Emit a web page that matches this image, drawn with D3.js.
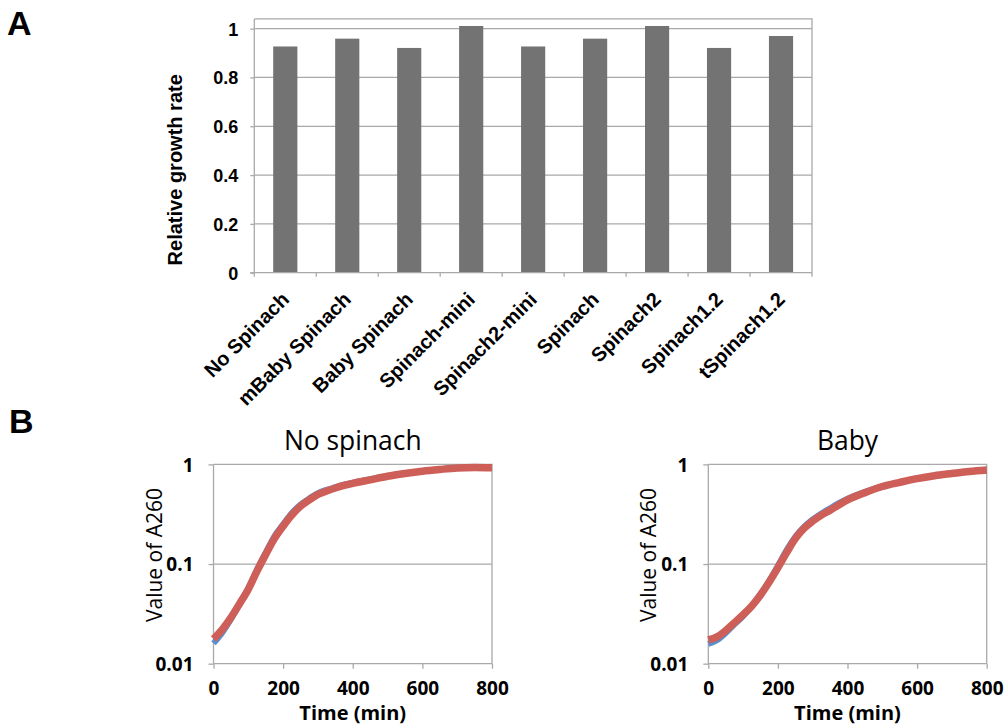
<!DOCTYPE html>
<html>
<head>
<meta charset="utf-8">
<script src="https://cdn.jsdelivr.net/npm/d3@7"></script>
<style>
  html, body { margin: 0; padding: 0; background: #ffffff; }
  svg { display: block; }
</style>
</head>
<body>
<svg id="fig" width="1004" height="726"></svg>
<script>
// Panel A: relative growth rate per construct
const barCategories = ["No Spinach", "mBaby Spinach", "Baby Spinach", "Spinach-mini",
  "Spinach2-mini", "Spinach", "Spinach2", "Spinach1.2", "tSpinach1.2"];
const barValues = [0.927, 0.959, 0.921, 1.011, 0.927, 0.959, 1.011, 0.921, 0.970];
const barTicks = [0, 0.2, 0.4, 0.6, 0.8, 1];

// Panel B: A260 growth curves (two replicates per strain)
const timeMin = [0, 25, 50, 75, 100, 125, 150, 175, 200, 225, 250, 275, 300, 325, 350, 375, 400,
  450, 500, 550, 600, 650, 700, 750, 800];
const noSpinachBlue = [0.0160, 0.0205, 0.0280, 0.0400, 0.0570, 0.0880, 0.130, 0.190, 0.250, 0.325,
  0.395, 0.455, 0.515, 0.555, 0.590, 0.625, 0.655, 0.710, 0.765, 0.810, 0.855, 0.890, 0.920, 0.930, 0.925];
const noSpinachRed = [0.0177, 0.0220, 0.0290, 0.0400, 0.0560, 0.0850, 0.125, 0.180, 0.240, 0.310,
  0.380, 0.440, 0.500, 0.540, 0.580, 0.615, 0.645, 0.700, 0.760, 0.810, 0.855, 0.890, 0.920, 0.930, 0.925];
const babyBlue = [0.0158, 0.0172, 0.0203, 0.0248, 0.0300, 0.0380, 0.0500, 0.0680, 0.0960, 0.138,
  0.188, 0.236, 0.280, 0.322, 0.362, 0.408, 0.452, 0.530, 0.600, 0.660, 0.720, 0.770, 0.810, 0.850, 0.880];
const babyRed = [0.0173, 0.0186, 0.0215, 0.0258, 0.0310, 0.0380, 0.0490, 0.0660, 0.0920, 0.130,
  0.180, 0.228, 0.270, 0.310, 0.347, 0.392, 0.440, 0.520, 0.600, 0.660, 0.720, 0.770, 0.810, 0.850, 0.880];
const logTicks = [0.01, 0.1, 1];
const logTickLabels = ["0.01", "0.1", "1"];
const timeTicks = [0, 200, 400, 600, 800];

const svg = d3.select("#fig");
const arial = "'Liberation Sans', Arial, sans-serif";
const sans = "'Open Sans', 'Noto Sans', sans-serif";
const gridCol = "#a9a9a9";

// ---------- Panel A ----------
svg.append("text").attr("x", 7).attr("y", 35)
  .attr("font-family", arial).attr("font-weight", "bold").attr("font-size", 34).text("A");

const ax = d3.scaleBand().domain(barCategories).range([254.3, 812]);
const ay = d3.scaleLinear().domain([0, 1.04]).range([272.7, 18.9]);
const gA = svg.append("g");

// gridlines
gA.selectAll("line.grid").data(barTicks.slice(1)).join("line")
  .attr("x1", ax.range()[0]).attr("x2", ax.range()[1])
  .attr("y1", d => ay(d)).attr("y2", d => ay(d))
  .attr("stroke", gridCol).attr("stroke-width", 1.3);
// plot frame (top and right)
gA.append("path")
  .attr("d", `M${ax.range()[0]},${ay(1.04)}H${ax.range()[1]}V${ay(0)}`)
  .attr("fill", "none").attr("stroke", gridCol).attr("stroke-width", 1.3);

// bars
gA.selectAll("rect.bar").data(barValues).join("rect")
  .attr("x", (d, i) => ax(barCategories[i]) + ax.bandwidth() * 0.305)
  .attr("width", ax.bandwidth() * 0.39)
  .attr("y", d => ay(d))
  .attr("height", d => ay(0) - ay(d))
  .attr("fill", "#737373");

// y axis
const yAxisA = d3.axisLeft(ay).tickValues(barTicks).tickSize(4).tickPadding(12)
  .tickFormat(d => d === 0 || d === 1 ? String(d) : d.toFixed(1));
const gy = gA.append("g").attr("transform", `translate(${ax.range()[0]},0)`).call(yAxisA);
gy.select(".domain").attr("d", `M-4,${ay(0)}H0V${ay(1.04)}`).attr("stroke", gridCol).attr("stroke-width", 1.3);
gy.selectAll(".tick line").attr("stroke", gridCol).attr("stroke-width", 1.3);
gy.selectAll(".tick text").attr("font-family", arial).attr("font-weight", "bold")
  .attr("font-size", 18).attr("fill", "#000").attr("dy", "0.36em");

// x axis with ticks at category boundaries
const bounds = barCategories.map(c => ax(c)).concat([ax.range()[1]]);
gA.append("line").attr("x1", ax.range()[0]).attr("x2", ax.range()[1])
  .attr("y1", ay(0)).attr("y2", ay(0)).attr("stroke", gridCol).attr("stroke-width", 1.3);
gA.selectAll("line.xt").data(bounds).join("line")
  .attr("x1", d => d).attr("x2", d => d).attr("y1", ay(0)).attr("y2", ay(0) + 4)
  .attr("stroke", gridCol).attr("stroke-width", 1.3);
gA.selectAll("text.xl").data(barCategories).join("text")
  .attr("transform", d => `translate(${ax(d) + ax.bandwidth() / 2 + 5},${ay(0) + 28}) rotate(-45)`)
  .attr("text-anchor", "end")
  .attr("font-family", arial).attr("font-weight", "bold").attr("font-size", 20)
  .text(d => d);

// y title
svg.append("text")
  .attr("transform", `translate(182,${(ay(0) + ay(1.04)) / 2 + 24}) rotate(-90)`)
  .attr("text-anchor", "middle")
  .attr("font-family", arial).attr("font-weight", "bold").attr("font-size", 20)
  .text("Relative growth rate");

// ---------- Panel B ----------
svg.append("text").attr("x", 9).attr("y", 433)
  .attr("font-family", arial).attr("font-weight", "bold").attr("font-size", 34).text("B");

function growthPanel(left, right, title, blue, red) {
  const x = d3.scaleLinear().domain([0, 800]).range([left, right]);
  const y = d3.scaleLog().domain([0.01, 1]).range([663.7, 464.4]);
  const g = svg.append("g");

  // frame and gridline
  g.append("line").attr("x1", left).attr("x2", right).attr("y1", y(0.1)).attr("y2", y(0.1))
    .attr("stroke", gridCol).attr("stroke-width", 1.3);
  g.append("path").attr("d", `M${left},${y(1)}H${right}V${y(0.01)}`)
    .attr("fill", "none").attr("stroke", gridCol).attr("stroke-width", 1.3);

  const yAx = d3.axisLeft(y).tickValues(logTicks).tickSize(5).tickPadding(15)
    .tickFormat((d, i) => logTickLabels[i]);
  const gy = g.append("g").attr("transform", `translate(${left},0)`).call(yAx);
  gy.select(".domain").attr("d", `M0,${y(0.01)}V${y(1)}`).attr("stroke", gridCol).attr("stroke-width", 1.3);
  gy.selectAll(".tick line").attr("stroke", gridCol).attr("stroke-width", 1.3);
  gy.selectAll(".tick text").attr("font-family", sans).attr("font-weight", "bold")
    .attr("font-size", 19).attr("fill", "#000").attr("dy", "0.36em");

  const xAx = d3.axisBottom(x).tickValues(timeTicks).tickSize(5).tickPadding(13).tickFormat(d3.format("d"));
  const gx = g.append("g").attr("transform", `translate(0,${y(0.01)})`).call(xAx);
  gx.select(".domain").attr("d", `M${left},0H${right}`).attr("stroke", gridCol).attr("stroke-width", 1.3);
  gx.selectAll(".tick line").attr("stroke", gridCol).attr("stroke-width", 1.3);
  gx.selectAll(".tick text").attr("font-family", sans).attr("font-weight", "bold")
    .attr("font-size", 19).attr("fill", "#000");

  const line = d3.line().x((d, i) => x(timeMin[i])).y(d => y(d)).curve(d3.curveMonotoneX);
  g.append("path").datum(blue).attr("d", line).attr("fill", "none")
    .attr("stroke", "#5b8fd0").attr("stroke-width", 6).attr("stroke-linejoin", "round");
  g.append("path").datum(red).attr("d", line).attr("fill", "none")
    .attr("stroke", "#cd5f58").attr("stroke-width", 7.5).attr("stroke-linejoin", "round");

  // titles
  const cx = (left + right) / 2;
  svg.append("text").attr("x", cx).attr("y", 450).attr("text-anchor", "middle")
    .attr("font-family", sans).attr("font-size", 26.4).attr("fill", "#000").text(title);
  svg.append("text").attr("x", cx).attr("y", 720).attr("text-anchor", "middle")
    .attr("font-family", sans).attr("font-weight", "bold").attr("font-size", 20).text("Time (min)");
  svg.append("text")
    .attr("transform", `translate(${left - 52},555) rotate(-90)`)
    .attr("text-anchor", "middle")
    .attr("font-family", sans).attr("font-size", 21).attr("fill", "#000").text("Value of A260");
}

growthPanel(213.5, 492, "No spinach", noSpinachBlue, noSpinachRed);
growthPanel(708.3, 986.7, "Baby", babyBlue, babyRed);
</script>
</body>
</html>
